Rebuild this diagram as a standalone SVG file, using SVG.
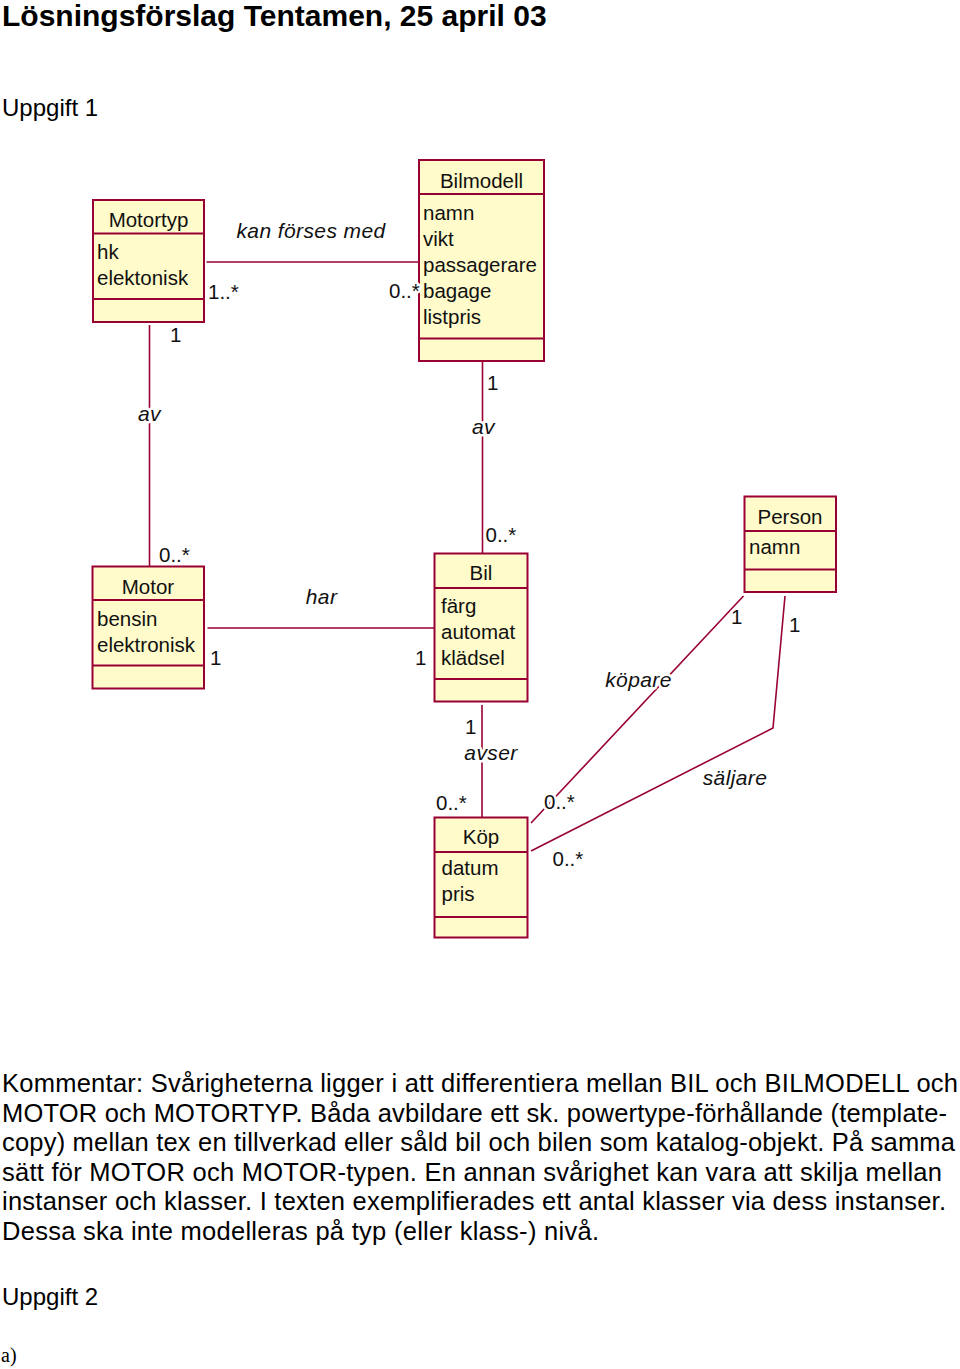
<svg xmlns="http://www.w3.org/2000/svg" width="960" height="1369" viewBox="0 0 960 1369">
<style>
.bg{fill:#ffffff}
.box{fill:#FFFBCB;stroke:#990033;stroke-width:2}
.div{stroke:#990033;stroke-width:2;fill:none}
.con{stroke:#990033;stroke-width:1.6;fill:none}
.t{font-family:"Liberation Sans",Arial,sans-serif;font-size:20.5px;fill:#111}
.c{text-anchor:middle}
.i{font-style:italic;font-size:21px;letter-spacing:0.4px}
.h{paint-order:stroke;stroke:#ffffff;stroke-width:5px;stroke-linejoin:round}
.doc{font-family:"Liberation Sans",Arial,sans-serif;fill:#000}
</style>
<rect class="bg" x="0" y="0" width="960" height="1369"/>

<g id="header">
<text class="doc" x="2" y="26" font-size="30" font-weight="bold">Lösningsförslag Tentamen, 25 april 03</text>
<text class="doc" x="2" y="116" font-size="24">Uppgift 1</text>
</g>

<g id="connector-lines">
<polyline class="con" points="206.5,262 418,262"/>
<polyline class="con" points="149.5,325 149.5,566"/>
<polyline class="con" points="482.5,362 482.5,553"/>
<polyline class="con" points="207.5,628 434,628"/>
<polyline class="con" points="482,705 482,817"/>
<polyline class="con" points="531,823 743.5,596"/>
<polyline class="con" points="531,851 773,728 785,596"/>
</g>

<g id="Motortyp">
<rect class="box" x="93" y="200" width="111" height="122"/>
<line class="div" x1="93" y1="233.5" x2="204" y2="233.5"/>
<line class="div" x1="93" y1="299" x2="204" y2="299"/>
<text class="t c" x="148.5" y="227">Motortyp</text>
<text class="t" x="97" y="259">hk</text>
<text class="t" x="97" y="284.5">elektonisk</text>
</g>

<g id="Bilmodell">
<rect class="box" x="419" y="160" width="125" height="201"/>
<line class="div" x1="419" y1="194" x2="544" y2="194"/>
<line class="div" x1="419" y1="338.5" x2="544" y2="338.5"/>
<text class="t c" x="481.5" y="187.5">Bilmodell</text>
<text class="t" x="423" y="220">namn</text>
<text class="t" x="423" y="246">vikt</text>
<text class="t" x="423" y="272">passagerare</text>
<text class="t" x="423" y="298">bagage</text>
<text class="t" x="423" y="324">listpris</text>
</g>

<g id="Motor">
<rect class="box" x="92.5" y="566.5" width="111.5" height="122"/>
<line class="div" x1="92.5" y1="600" x2="204" y2="600"/>
<line class="div" x1="92.5" y1="665.5" x2="204" y2="665.5"/>
<text class="t c" x="148" y="593.5">Motor</text>
<text class="t" x="97" y="626">bensin</text>
<text class="t" x="97" y="652">elektronisk</text>
</g>

<g id="Bil">
<rect class="box" x="434.5" y="553.5" width="93" height="148"/>
<line class="div" x1="434.5" y1="588" x2="527.5" y2="588"/>
<line class="div" x1="434.5" y1="679" x2="527.5" y2="679"/>
<text class="t c" x="481" y="580">Bil</text>
<text class="t" x="441" y="613">färg</text>
<text class="t" x="441" y="638.5">automat</text>
<text class="t" x="441" y="664.5">klädsel</text>
</g>

<g id="Person">
<rect class="box" x="744.5" y="496.5" width="91.5" height="95.5"/>
<line class="div" x1="744.5" y1="531" x2="836" y2="531"/>
<line class="div" x1="744.5" y1="569.5" x2="836" y2="569.5"/>
<text class="t c" x="790" y="523.5">Person</text>
<text class="t" x="749" y="554">namn</text>
</g>

<g id="Kop">
<rect class="box" x="434.5" y="817.5" width="93" height="120"/>
<line class="div" x1="434.5" y1="852" x2="527.5" y2="852"/>
<line class="div" x1="434.5" y1="917" x2="527.5" y2="917"/>
<text class="t c" x="481" y="843.5">Köp</text>
<text class="t" x="441.5" y="875">datum</text>
<text class="t" x="441.5" y="901">pris</text>
</g>

<g id="connector-labels">
<text class="t i h c" x="311" y="237.5">kan förses med</text>
<text class="t h" x="208" y="298.5">1..*</text>
<text class="t h" x="389" y="298">0..*</text>
<text class="t h" x="170" y="342">1</text>
<text class="t i h c" x="149.5" y="421">av</text>
<text class="t h" x="159" y="561.5">0..*</text>
<text class="t h" x="487" y="389.5">1</text>
<text class="t i h c" x="483.5" y="434">av</text>
<text class="t h" x="485.5" y="541.5">0..*</text>
<text class="t i h c" x="321.5" y="603.5">har</text>
<text class="t h" x="210" y="665">1</text>
<text class="t h" x="415" y="665">1</text>
<text class="t h" x="465" y="733.5">1</text>
<text class="t i h c" x="491" y="760">avser</text>
<text class="t h" x="436" y="809.5">0..*</text>
<text class="t h" x="544" y="808.5">0..*</text>
<text class="t h" x="552.5" y="866">0..*</text>
<text class="t i h c" x="638.5" y="687">köpare</text>
<text class="t h" x="731" y="623.5">1</text>
<text class="t h" x="789" y="632">1</text>
<text class="t i h c" x="735" y="785">säljare</text>
</g>

<g id="comment">
<text class="doc" font-size="25.5" x="2" y="1092" textLength="956" lengthAdjust="spacing">Kommentar: Svårigheterna ligger i att differentiera mellan BIL och BILMODELL och</text>
<text class="doc" font-size="25.5" x="2" y="1121.5" textLength="945" lengthAdjust="spacing">MOTOR och MOTORTYP. Båda avbildare ett sk. powertype-förhållande (template-</text>
<text class="doc" font-size="25.5" x="2" y="1151" textLength="953" lengthAdjust="spacing">copy) mellan tex en tillverkad eller såld bil och bilen som katalog-objekt. På samma</text>
<text class="doc" font-size="25.5" x="2" y="1180.5" textLength="940" lengthAdjust="spacing">sätt för MOTOR och MOTOR-typen. En annan svårighet kan vara att skilja mellan</text>
<text class="doc" font-size="25.5" x="2" y="1210" textLength="944" lengthAdjust="spacing">instanser och klasser. I texten exemplifierades ett antal klasser via dess instanser.</text>
<text class="doc" font-size="25.5" x="2" y="1239.5" textLength="597" lengthAdjust="spacing">Dessa ska inte modelleras på typ (eller klass-) nivå.</text>
<text class="doc" x="2" y="1305" font-size="24">Uppgift 2</text>
<text x="1" y="1361.5" font-family="'Liberation Serif','Times New Roman',serif" font-size="20" fill="#000">a)</text>
</g>
</svg>
